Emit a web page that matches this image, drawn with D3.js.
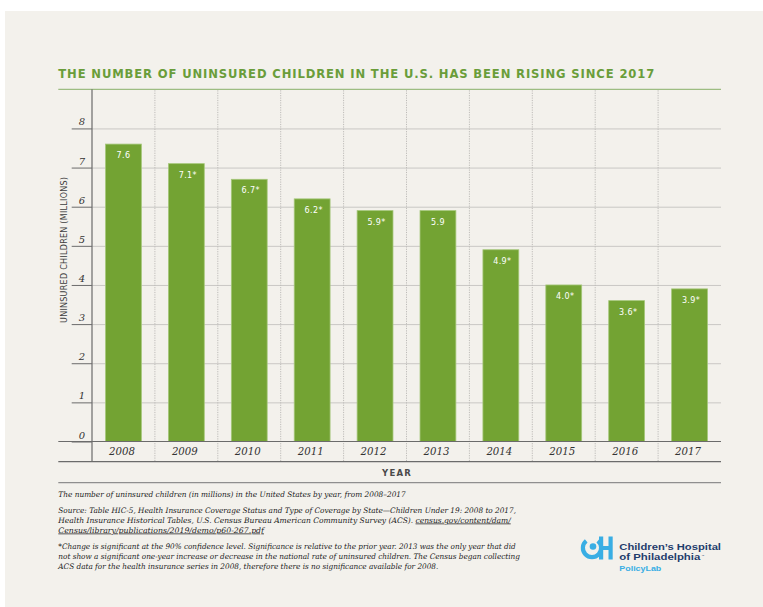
<!DOCTYPE html>
<html>
<head>
<meta charset="utf-8">
<script src="https://cdn.jsdelivr.net/npm/d3@7"></script>
<style>
  html, body { margin: 0; padding: 0; background: #ffffff; }
  svg { display: block; }
</style>
</head>
<body>
<svg id="chart" width="763" height="607"></svg>
<script>
// Uninsured children in the U.S., millions, 2008–2017
const years = ["2008", "2009", "2010", "2011", "2012", "2013", "2014", "2015", "2016", "2017"];
const values = [7.6, 7.1, 6.7, 6.2, 5.9, 5.9, 4.9, 4.0, 3.6, 3.9];
const valueLabels = ["7.6", "7.1*", "6.7*", "6.2*", "5.9*", "5.9", "4.9*", "4.0*", "3.6*", "3.9*"];
const yTicks = [0, 1, 2, 3, 4, 5, 6, 7, 8];

const titleText = "THE NUMBER OF UNINSURED CHILDREN IN THE U.S. HAS BEEN RISING SINCE 2017";
const yTitle = "UNINSURED CHILDREN (MILLIONS)";
const xTitle = "YEAR";

const svg = d3.select("#chart");
const W = 763, H = 607;

// card background
svg.append("rect").attr("x", 5).attr("y", 11).attr("width", W - 5).attr("height", H - 11)
  .attr("fill", "#f3f1ec");

const plot = { left: 92, right: 721, top: 89.3, bottom: 441.5 };
const lineLeft = 58.3;

const x = d3.scaleBand().domain(years).range([plot.left, plot.right]).paddingInner(0.43).paddingOuter(0.215);
const y = d3.scaleLinear().domain([0, 9]).range([plot.bottom, plot.top]);

// title
svg.append("text")
  .attr("x", lineLeft).attr("y", 77.5)
  .attr("font-family", "'DejaVu Sans', sans-serif")
  .attr("font-weight", "bold")
  .attr("font-size", 11.6)
  .attr("fill", "#6a9d3a")
  .attr("textLength", 596).attr("lengthAdjust", "spacing")
  .text(titleText);

// top rule
svg.append("line").attr("x1", lineLeft).attr("x2", plot.right)
  .attr("y1", plot.top).attr("y2", plot.top)
  .attr("stroke", "#9dbd82").attr("stroke-width", 1.3);

// horizontal grid
const grid = svg.append("g").attr("transform", `translate(${plot.left},0)`)
  .call(d3.axisLeft(y).tickValues(yTicks.filter(d => d > 0)).tickSize(-(plot.right - plot.left)).tickFormat(""));
grid.select(".domain").remove();
grid.selectAll(".tick line").attr("stroke", "#c9c7c4").attr("stroke-width", 1);

// vertical dotted separators between years
const step = x.step();
const seps = d3.range(1, years.length).map(i => plot.left + i * step);
svg.append("g").selectAll("line").data(seps).join("line")
  .attr("x1", d => d).attr("x2", d => d)
  .attr("y1", plot.top + 1).attr("y2", 461.7)
  .attr("stroke", "#bdbbb8").attr("stroke-width", 1)
  .attr("stroke-dasharray", "1.2,1.2");

// bars
svg.append("g").selectAll("rect").data(values).join("rect")
  .attr("x", (d, i) => x(years[i]))
  .attr("y", d => y(d))
  .attr("width", x.bandwidth())
  .attr("height", d => y(0) - y(d))
  .attr("fill", "#73a333")
  .attr("stroke", "#a5c77a").attr("stroke-width", 0.8);

// value labels
svg.append("g").selectAll("text").data(values).join("text")
  .attr("x", (d, i) => x(years[i]) + x.bandwidth() / 2 + (valueLabels[i].endsWith("*") ? 1.5 : 0))
  .attr("y", d => y(d) + 14)
  .attr("text-anchor", "middle")
  .attr("font-family", "'DejaVu Sans', sans-serif")
  .attr("font-size", 8)
  .attr("letter-spacing", 0.4)
  .attr("fill", "#ffffff")
  .text((d, i) => valueLabels[i]);

// y axis ticks & labels
const yAxis = svg.append("g").attr("transform", `translate(${plot.left},0)`)
  .call(d3.axisLeft(y).tickValues(yTicks).tickSize(20.3).tickFormat(d3.format("d")));
yAxis.select(".domain").remove();
yAxis.selectAll(".tick line").attr("stroke", "#6b6b6b").attr("stroke-width", 1);
yAxis.selectAll(".tick text")
  .attr("x", -7).attr("dy", -3.5)
  .attr("text-anchor", "end")
  .attr("font-family", "'DejaVu Serif', serif")
  .attr("font-style", "italic")
  .attr("font-size", 10)
  .attr("fill", "#333333");

// y axis line
svg.append("line").attr("x1", plot.left).attr("x2", plot.left)
  .attr("y1", plot.top).attr("y2", 461.7)
  .attr("stroke", "#6b6b6b").attr("stroke-width", 1.2);

// baseline and lower axis rules
[[plot.bottom, "#6b6b6b"], [461.7, "#6b6b6b"], [482.7, "#8f8f8f"]].forEach(([yy, c]) => {
  svg.append("line").attr("x1", lineLeft).attr("x2", plot.right)
    .attr("y1", yy).attr("y2", yy).attr("stroke", c).attr("stroke-width", 1.2);
});

// x axis labels
const xAxis = svg.append("g").attr("transform", `translate(0,${plot.bottom})`)
  .call(d3.axisBottom(x).tickSize(0));
xAxis.select(".domain").remove();
xAxis.selectAll(".tick text")
  .attr("y", 0).attr("dy", 13.8)
  .attr("dx", -1.5)
  .attr("font-family", "'DejaVu Serif', serif")
  .attr("font-style", "italic")
  .attr("font-size", 10.2)
  .attr("fill", "#333333");

// axis titles
svg.append("text")
  .attr("x", 397).attr("y", 475.5)
  .attr("text-anchor", "middle")
  .attr("font-family", "'DejaVu Sans', sans-serif")
  .attr("font-weight", "bold")
  .attr("font-size", 8.5)
  .attr("letter-spacing", 1.2)
  .attr("fill", "#4a4a4a")
  .text(xTitle);

svg.append("text")
  .attr("transform", "translate(66.5,250) rotate(-90)")
  .attr("text-anchor", "middle")
  .attr("font-family", "'DejaVu Sans', sans-serif")
  .attr("font-size", 8)
  .attr("fill", "#3e3e3e")
  .attr("textLength", 146).attr("lengthAdjust", "spacing")
  .text(yTitle);

// footnotes
const notes = [
  { y: 497, w: 347.4, parts: [["The number of uninsured children (in millions) in the United States by year, from 2008–2017", false]] },
  { y: 512.5, w: 457.7, parts: [["Source: Table HIC-5, Health Insurance Coverage Status and Type of Coverage by State—Children Under 19: 2008 to 2017,", false]] },
  { y: 522.5, w: 452.4, parts: [["Health Insurance Historical Tables, U.S. Census Bureau American Community Survey (ACS). ", false], ["census.gov/content/dam/", true]] },
  { y: 532.5, w: 205.7, parts: [["Census/library/publications/2019/demo/p60-267.pdf", true]] },
  { y: 548.5, w: 457.4, parts: [["*Change is significant at the 90% confidence level. Significance is relative to the prior year. 2013 was the only year that did", false]] },
  { y: 558.5, w: 461.7, parts: [["not show a significant one-year increase or decrease in the national rate of uninsured children. The Census began collecting", false]] },
  { y: 568.5, w: 380, parts: [["ACS data for the health insurance series in 2008, therefore there is no significance available for 2008.", false]] }
];
const noteG = svg.append("g")
  .attr("font-family", "'DejaVu Serif', serif")
  .attr("font-style", "italic")
  .attr("font-size", 7.6)
  .attr("fill", "#222222");
notes.forEach(n => {
  const t = noteG.append("text").attr("x", lineLeft).attr("y", n.y)
    .attr("textLength", n.w).attr("lengthAdjust", "spacingAndGlyphs");
  n.parts.forEach(([s, u]) => {
    t.append("tspan").attr("text-decoration", u ? "underline" : null).text(s);
  });
});

// logo
const logo = svg.append("g").attr("transform", "translate(580,530)");
const blue = "#39aee4";
// C mark
const arc = d3.arc().innerRadius(7).outerRadius(11.2)
  .startAngle(Math.PI * 0.22).endAngle(Math.PI * 1.78);
logo.append("path").attr("d", arc()).attr("transform", "translate(12,18)").attr("fill", blue);
logo.append("circle").attr("cx", 13).attr("cy", 16.5).attr("r", 3.3).attr("fill", blue);
// H mark
logo.append("rect").attr("x", 19).attr("y", 6.5).attr("width", 4.2).attr("height", 23).attr("fill", blue);
logo.append("rect").attr("x", 28.5).attr("y", 6.5).attr("width", 4.2).attr("height", 23).attr("fill", blue);
logo.append("rect").attr("x", 19).attr("y", 16).attr("width", 13).attr("height", 4).attr("fill", blue);

// wordmark
const wordFont = "'Liberation Sans', Arial, sans-serif";
logo.append("text").attr("x", 39.3).attr("y", 20.1)
  .attr("font-family", wordFont).attr("font-weight", "bold")
  .attr("font-size", 8.2).attr("fill", "#1f3d6c")
  .attr("textLength", 101.7).attr("lengthAdjust", "spacingAndGlyphs")
  .text("Children’s Hospital");
logo.append("text").attr("x", 39.3).attr("y", 29.6)
  .attr("font-family", wordFont).attr("font-weight", "bold")
  .attr("font-size", 8.2).attr("fill", "#1f3d6c")
  .attr("textLength", 81).attr("lengthAdjust", "spacingAndGlyphs")
  .text("of Philadelphia");
logo.append("text").attr("x", 121.5).attr("y", 26.5)
  .attr("font-family", wordFont)
  .attr("font-size", 3).attr("fill", "#1f3d6c")
  .text("™");
logo.append("text").attr("x", 39.3).attr("y", 41)
  .attr("font-family", wordFont).attr("font-weight", "bold")
  .attr("font-size", 7.6).attr("fill", blue)
  .attr("textLength", 42).attr("lengthAdjust", "spacingAndGlyphs")
  .text("PolicyLab");
</script>
</body>
</html>
